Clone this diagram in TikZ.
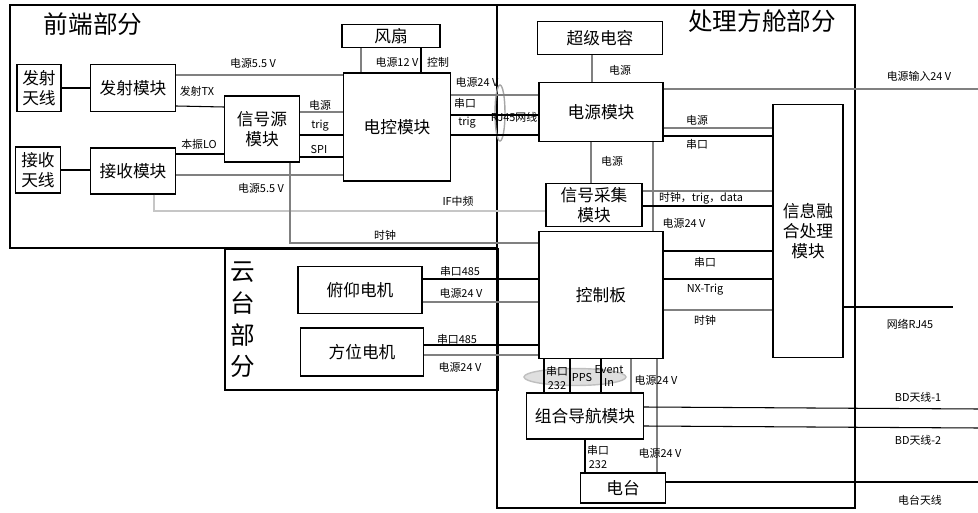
\documentclass[tikz,border=0pt]{standalone}
\usepackage{fontspec}
\setmainfont{Noto Sans CJK SC}
\usetikzlibrary{shapes.geometric}
\begin{document}
\begin{tikzpicture}
	% system blocks of front end, pan-tilt and shelter with their signal and power lines
	[x=0.02cm,y=-0.02cm,line width=0.8pt,
	blk/.style={draw,inner sep=0pt,align=center,font=\fontsize{9.5}{11.5}\selectfont},
	lbl/.style={inner sep=0pt,align=center,font=\fontsize{6.2}{7.5}\selectfont},
	part/.style={inner sep=0pt,align=center,font=\fontsize{14}{18}\selectfont},
	sig/.style={black,line width=0.6pt},
	pwr/.style={gray,line width=0.6pt}]
	\useasboundingbox (0,0) rectangle (978,513);

	% parts
	\draw (10,5) rectangle (497,248);
	\draw (497,5) rectangle (855,508);
	\draw (225,249) rectangle (498,390);
	\node[part] (qd) at (93,24) {前端部分};
	\node[part] (clfc) at (762,21) {处理方舱部分};
	\node[part] (yt) at (243,320) {云\\台\\部\\分};

	% front end
	\node[blk,minimum width=0.88cm,minimum height=0.94cm] (fstx) at (39,88) {发射\\天线};
	\node[blk,minimum width=0.9cm,minimum height=0.92cm] (jstx) at (38,170) {接收\\天线};
	\node[blk,minimum width=1.7cm,minimum height=0.94cm] (fsmk) at (133,88) {发射模块};
	\node[blk,minimum width=1.7cm,minimum height=0.92cm] (jsmk) at (133,171) {接收模块};
	\node[blk,minimum width=1.5cm,minimum height=1.32cm] (xhy) at (262,129) {信号源\\模块};
	\node[blk,minimum width=2.14cm,minimum height=2.16cm] (dkmk) at (397,127) {电控模块};
	\node[blk,minimum width=1.96cm,minimum height=0.46cm] (fs) at (391,36) {风扇};

	% shelter
	\node[blk,minimum width=2.5cm,minimum height=0.66cm] (cjdr) at (600,38) {超级电容};
	\node[blk,minimum width=2.48cm,minimum height=1.18cm] (dymk) at (601,112) {电源模块};
	\node[blk,minimum width=1.92cm,minimum height=0.86cm] (xhcj) at (594,205) {信号采集\\模块};
	\node[blk,minimum width=1.4cm,minimum height=5.06cm] (xxrh) at (808,231) {信息融\\合处理\\模块};
	\node[blk,minimum width=2.48cm,minimum height=2.54cm] (kzb) at (601,295) {控制板};
	\node[blk,minimum width=2.34cm,minimum height=0.92cm] (zhdh) at (585,416) {组合导航模块};
	\node[blk,minimum width=1.7cm,minimum height=0.6cm] (dt) at (623,488) {电台};

	% pan-tilt
	\node[blk,minimum width=2.48cm,minimum height=0.94cm] (fydj) at (360,290) {俯仰电机};
	\node[blk,minimum width=2.46cm,minimum height=0.96cm] (fwdj) at (362,352) {方位电机};

	% ellipses
	\node[ellipse,draw=gray!70,inner sep=0pt,minimum width=0.2cm,minimum height=1.12cm] (rjq) at (500,113) {};
	\node[ellipse,draw=gray!50,fill=gray!25,inner sep=0pt,minimum width=2.04cm,minimum height=0.34cm] (ppsq) at (575,377) {};

	% free ends
	\coordinate (pin) at (978,89);
	\coordinate (rj) at (953,307);
	\coordinate (bda) at (978,409);
	\coordinate (bdb) at (978,428);
	\coordinate (dtt) at (978,482);

	% front end lines
	\draw[sig] (fstx) -- (fstx -| fsmk.west);
	\draw[sig] (jstx) -- (jstx -| jsmk.west);
	\draw[sig] (fsmk.east |- 0,106) -- (xhy.west |- 0,107);
	\draw[sig] (jsmk.east |- 0,154) -- (xhy.west |- 0,154);
	\draw[pwr] (fsmk.east |- 0,75) -- (dkmk.west |- 0,75);
	\draw[pwr] (jsmk.east |- 0,175) -- (dkmk.west |- 0,175);
	\draw[pwr] (xhy.east |- 0,112) -- (dkmk.west |- 0,112);
	\draw[sig] (xhy.east |- 0,135) -- (dkmk.west |- 0,135);
	\draw[sig] (xhy.east |- 0,157) -- (dkmk.west |- 0,157);
	\draw[pwr] (fs.south -| 361,0) -- (dkmk.north -| 361,0);
	\draw[sig] (fs.south -| 421,0) -- (dkmk.north -| 421,0);
	\draw[pwr] (dkmk.east |- 0,95) -- (dymk.west |- 0,95);
	\draw[sig] (dkmk.east |- 0,115) -- (dymk.west |- 0,115);
	\draw[sig] (dkmk.east |- 0,135) -- (dymk.west |- 0,135);
	\draw[gray!45,line width=0.6pt] (jsmk.south -| 154,0) -- (154,211) -- (xhcj.west |- 0,211);
	\draw[pwr] (xhy.south -| 290,0) -- (290,243) -- (kzb.west |- 0,243);

	% shelter lines
	\draw[pwr] (cjdr.south -| 592,0) -- (dymk.north -| 592,0);
	\draw[pwr] (dymk.south -| 591,0) -- (xhcj.north -| 591,0);
	\draw[pwr] (dymk.south -| 653,0) -- (kzb.north -| 653,0);
	\draw[pwr] (dymk.east |- pin) -- (pin);
	\draw[pwr] (dymk.east |- 0,128) -- (xxrh.west |- 0,128);
	\draw[sig] (dymk.east |- 0,136) -- (xxrh.west |- 0,136);
	\draw[pwr] (xhcj.east |- 0,191) -- (xxrh.west |- 0,191);
	\draw[sig] (xhcj.east |- 0,206) -- (xxrh.west |- 0,206);
	\draw[sig] (kzb.east |- 0,251) -- (xxrh.west |- 0,251);
	\draw[sig] (kzb.east |- 0,279) -- (xxrh.west |- 0,279);
	\draw[pwr] (kzb.east |- 0,310) -- (xxrh.west |- 0,310);
	\draw[sig] (xxrh.east |- rj) -- (rj);
	\draw[sig] (kzb.south -| 544,0) -- (zhdh.north -| 544,0);
	\draw[sig] (kzb.south -| 570,0) -- (zhdh.north -| 570,0);
	\draw[sig] (kzb.south -| 601,0) -- (zhdh.north -| 601,0);
	\draw[pwr] (kzb.south -| 631,0) -- (zhdh.north -| 631,0);
	\draw[pwr] (kzb.south -| 657,0) -- (dt.north -| 657,0);
	\draw[sig] (zhdh.south -| 585,0) -- (dt.north -| 585,0);
	\draw[sig] (zhdh.east |- 0,407) -- (bda);
	\draw[sig] (zhdh.east |- 0,426) -- (bdb);
	\draw[sig] (dt.east |- dtt) -- (dtt);

	% pan-tilt lines
	\draw[sig] (fydj.east |- 0,279) -- (kzb.west |- 0,279);
	\draw[pwr] (fydj.east |- 0,302) -- (kzb.west |- 0,302);
	\draw[sig] (fwdj.east |- 0,345) -- (kzb.west |- 0,345);
	\draw[pwr] (fwdj.east |- 0,355) -- (kzb.west |- 0,355);

	% labels
	\node[lbl] at (253,63) {电源5.5 V};
	\node[lbl] at (197,91) {发射TX};
	\node[lbl] at (199,144) {本振LO};
	\node[lbl] at (261,188) {电源5.5 V};
	\node[lbl] at (320,105) {电源};
	\node[lbl] at (320,126) {trig};
	\node[lbl] at (319,150) {SPI};
	\node[lbl] at (397,62) {电源12 V};
	\node[lbl] at (438,62) {控制};
	\node[lbl] at (477,82) {电源24 V};
	\node[lbl] at (465,103) {串口};
	\node[lbl] at (467,123) {trig};
	\node[lbl] at (514,117) {RJ45网线};
	\node[lbl] at (458,201) {IF中频};
	\node[lbl] at (385,235) {时钟};
	\node[lbl] at (620,70) {电源};
	\node[lbl] at (919,76) {电源输入24 V};
	\node[lbl] at (697,120) {电源};
	\node[lbl] at (697,144) {串口};
	\node[lbl] at (612,161) {电源};
	\node[lbl] at (701,198) {时钟，trig，data};
	\node[lbl] at (684,223) {电源24 V};
	\node[lbl] at (460,271) {串口485};
	\node[lbl] at (461,293) {电源24 V};
	\node[lbl] at (457,339) {串口485};
	\node[lbl] at (460,367) {电源24 V};
	\node[lbl] at (705,262) {串口};
	\node[lbl] at (705,290) {NX-Trig};
	\node[lbl] at (705,320) {时钟};
	\node[lbl] at (910,324) {网络RJ45};
	\node[lbl] at (557,378) {串口\\232};
	\node[lbl] at (582,378) {PPS};
	\node[lbl] at (609,376) {Event\\In};
	\node[lbl] at (656,380) {电源24 V};
	\node[lbl] at (598,457) {串口\\232};
	\node[lbl] at (660,453) {电源24 V};
	\node[lbl] at (918,397) {BD天线-1};
	\node[lbl] at (918,440) {BD天线-2};
	\node[lbl] at (920,500) {电台天线};
\end{tikzpicture}
\end{document}
